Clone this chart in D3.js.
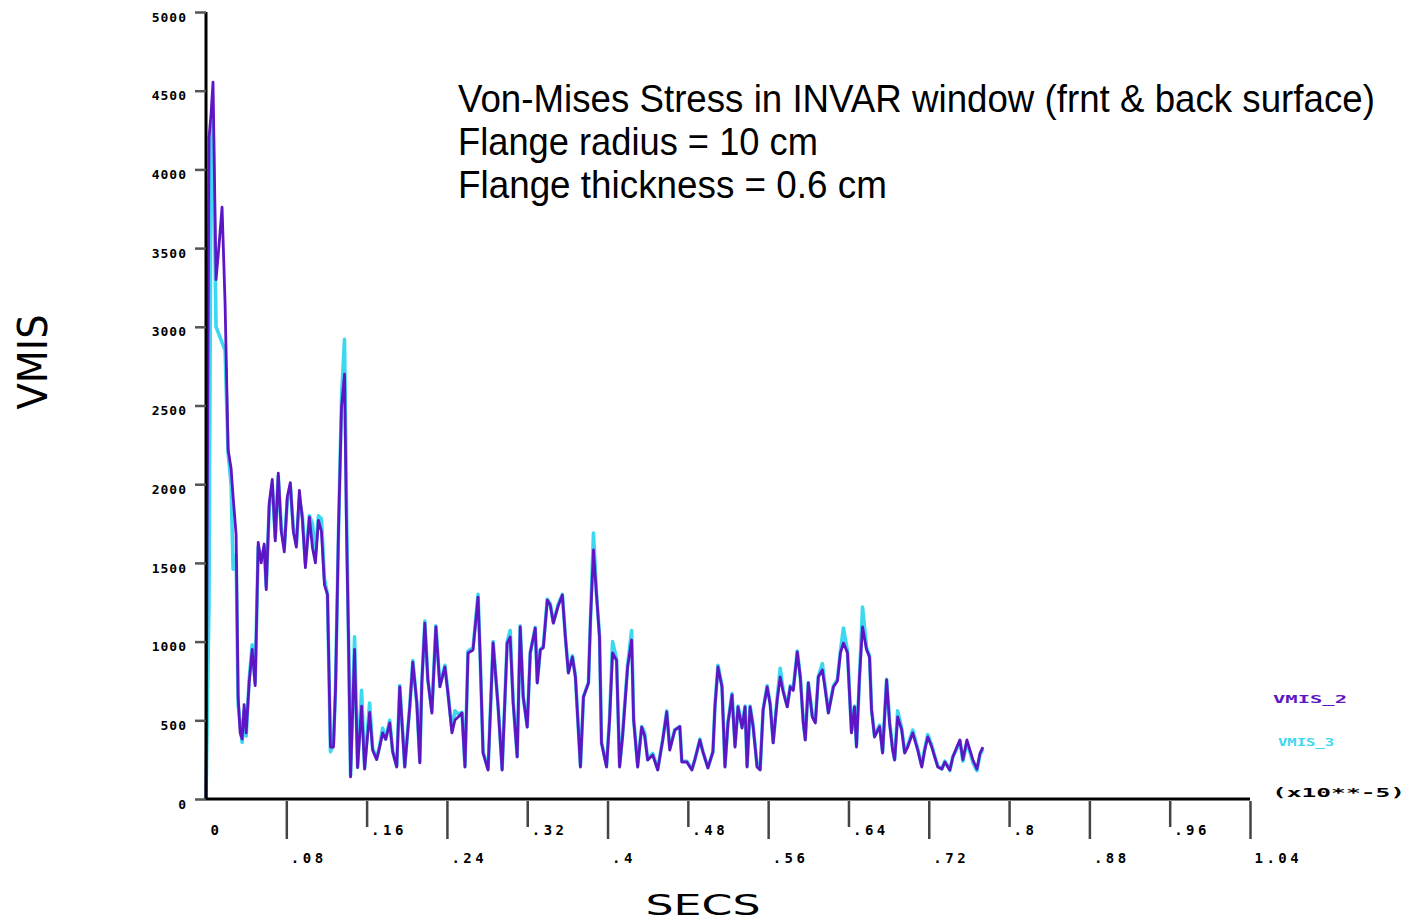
<!DOCTYPE html>
<html><head><meta charset="utf-8">
<script src="https://cdn.jsdelivr.net/npm/d3@7"></script>
<style>body{margin:0;background:#fff;overflow:hidden}</style>
</head><body><svg id="c" width="1410" height="921"></svg>
<script>
// time in units of 1e-5 s
const secs = [0,0.003,0.005,0.007,0.010,0.013,0.016,0.019,0.022,0.025,0.027,0.030,0.032,0.034,0.036,0.038,0.040,0.043,0.046,0.049,
0.052,0.055,0.058,0.060,0.063,0.066,0.069,0.072,0.075,0.078,0.081,0.084,0.087,0.090,0.093,0.096,0.099,0.103,0.106,0.109,
0.112,0.115,0.118,0.121,0.124,0.127,0.129,0.132,0.135,0.138,0.140,0.142,0.144,0.148,0.151,0.155,0.158,0.163,0.166,0.170,
0.173,0.176,0.179,0.183,0.186,0.190,0.193,0.198,0.203,0.206,0.210,0.213,0.215,0.218,0.221,0.225,0.229,0.233,0.238,0.241,
0.245,0.248,0.251,0.255,0.258,0.261,0.266,0.271,0.273,0.276,0.281,0.286,0.291,0.295,0.300,0.303,0.306,0.310,0.313,0.316,
0.320,0.323,0.328,0.330,0.333,0.336,0.340,0.343,0.346,0.351,0.355,0.358,0.361,0.365,0.368,0.373,0.376,0.381,0.383,0.386,
0.389,0.392,0.394,0.399,0.402,0.405,0.409,0.412,0.415,0.420,0.424,0.426,0.430,0.434,0.437,0.440,0.445,0.450,0.455,0.459,
0.462,0.467,0.472,0.474,0.479,0.484,0.487,0.492,0.495,0.500,0.505,0.507,0.510,0.514,0.517,0.520,0.524,0.527,0.530,0.534,
0.537,0.539,0.542,0.545,0.549,0.552,0.555,0.559,0.562,0.565,0.569,0.572,0.575,0.579,0.582,0.585,0.589,0.592,0.595,0.597,
0.600,0.604,0.607,0.610,0.614,0.617,0.620,0.625,0.629,0.632,0.635,0.639,0.643,0.646,0.648,0.651,0.654,0.658,0.661,0.663,
0.666,0.671,0.674,0.678,0.681,0.684,0.686,0.689,0.693,0.696,0.699,0.704,0.709,0.713,0.716,0.719,0.723,0.726,0.729,0.733,
0.736,0.739,0.741,0.744,0.748,0.751,0.754,0.758,0.761,0.764,0.768,0.771,0.774];

// front surface (purple)
const vmisFront = [0,4200,4350,4555,3300,3520,3760,3150,2220,2100,1920,1680,650,420,380,600,420,740,950,720,
1630,1500,1620,1330,1880,2030,1640,2070,1700,1570,1920,2010,1700,1600,1960,1780,1470,1790,1600,1500,
1770,1700,1360,1300,330,330,690,1710,2490,2700,1700,1000,140,950,200,590,190,550,310,250,
330,420,380,483,300,203,712,203,585,870,610,229,737,1118,756,546,1093,712,839,673,
420,502,520,546,203,928,947,1283,928,292,184,991,585,184,991,1029,610,267,1093,648,
457,928,1086,737,947,960,1264,1230,1118,1230,1296,1029,800,902,775,203,648,737,1137,1582,
1300,1029,356,203,500,928,880,203,400,839,1010,502,203,457,400,248,280,184,375,553,
311,438,460,235,235,184,250,375,300,197,300,585,839,712,203,483,661,330,585,450,
585,203,585,460,203,184,566,712,600,356,629,775,680,585,712,690,934,775,483,375,
737,520,483,775,820,690,546,712,750,928,991,930,420,585,330,775,1093,950,900,566,
394,460,292,756,480,311,248,521,440,292,330,420,311,203,311,394,330,267,203,190,
235,203,184,267,330,375,250,375,311,248,190,290,330];

// back surface (cyan)
const vmisBack = [0,1250,4150,4300,3000,2950,2900,2850,2200,2000,1460,1550,600,480,360,560,400,760,980,740,
1600,1520,1600,1350,1860,2000,1660,2050,1720,1600,1900,1990,1720,1620,1900,1800,1500,1800,1750,1560,
1800,1780,1400,1300,300,350,700,1700,2550,2920,1830,1000,150,1030,200,690,200,610,320,260,
340,450,380,500,300,210,720,210,590,880,610,240,740,1130,760,560,1100,720,850,680,
440,560,540,550,210,940,960,1300,930,300,190,1000,590,190,1000,1070,620,270,1100,650,
460,930,1090,740,950,970,1270,1240,1120,1240,1300,1030,810,910,780,210,650,740,1140,1690,
1300,1040,360,210,510,1000,890,210,410,850,1070,510,210,460,420,250,290,190,380,560,
320,440,460,240,240,190,250,380,300,200,300,590,850,720,210,490,670,340,590,460,
590,210,590,470,210,190,570,720,610,360,640,830,690,590,720,700,940,780,490,380,
740,530,490,780,860,700,550,720,760,940,1086,940,430,590,340,780,1220,960,910,570,
400,470,300,760,490,320,250,560,450,300,340,438,320,210,320,410,340,270,210,190,
240,210,180,270,320,370,240,360,300,230,180,280,320];

const yTicks = [0,500,1000,1500,2000,2500,3000,3500,4000,4500,5000];
const xTicks = [0,0.08,0.16,0.24,0.32,0.40,0.48,0.56,0.64,0.72,0.80,0.88,0.96,1.04];
const xTickLabels = ["0",".08",".16",".24",".32",".4",".48",".56",".64",".72",".8",".88",".96","1.04"];
const titleLines = ["Von-Mises Stress in INVAR window (frnt & back surface)","Flange radius = 10 cm","Flange thickness = 0.6 cm"];
const seriesNames = ["VMIS_2","VMIS_3"];
const seriesColors = ["#5e16c4","#3cd8f0"];

const svg = d3.select("#c");
const x = d3.scaleLinear().domain([0,1.04]).range([206,1250]);
const y = d3.scaleLinear().domain([0,5000]).range([799,12]);

// lines
const lineFn = vals => d3.line().x((d,i)=>x(secs[i])).y(d=>y(d))(vals);
svg.append("path").attr("d",lineFn(vmisBack)).attr("fill","none")
  .attr("stroke",seriesColors[1]).attr("stroke-width",3.6).attr("stroke-linejoin","round");
svg.append("path").attr("d",lineFn(vmisFront)).attr("fill","none")
  .attr("stroke",seriesColors[0]).attr("stroke-width",2.8).attr("stroke-linejoin","round");

// y axis
const yAxis = svg.append("g").attr("transform","translate(206,0)")
  .call(d3.axisLeft(y).tickValues(yTicks).tickSize(11).tickPadding(8).tickFormat(d3.format("d")));
yAxis.select(".domain").attr("stroke","#000").attr("stroke-width",3).attr("d","M0,12V799");
yAxis.selectAll(".tick line").attr("stroke","#555").attr("stroke-width",2.5);
yAxis.selectAll(".tick text").attr("font-family","DejaVu Sans Mono").attr("font-weight","bold")
  .attr("font-size",13).attr("letter-spacing","1px").attr("fill","#000").attr("dy","0.7em");

// x axis
const xAxis = svg.append("g").attr("transform","translate(0,799)")
  .call(d3.axisBottom(x).tickValues(xTicks).tickSize(28).tickPadding(0).tickFormat((d,i)=>xTickLabels[i]));
xAxis.select(".domain").attr("stroke","#000").attr("stroke-width",3).attr("d","M206,0H1250");
xAxis.selectAll(".tick line").attr("stroke","#444").attr("stroke-width",2.5)
  .attr("y1",2).attr("y2",(d,i)=> i%2 ? 40 : 28).attr("display",(d,i)=> i===0 ? "none" : null);
xAxis.selectAll(".tick text").attr("font-family","DejaVu Sans Mono").attr("font-weight","bold")
  .attr("font-size",14).attr("letter-spacing","3.5px").attr("fill","#000")
  .attr("text-anchor","start").attr("x",4).attr("dy",0).attr("y",(d,i)=> i%2 ? 64 : 36);

// multiplier label
svg.append("text").attr("x",1272).attr("y",797).text("(x10**-5)")
  .attr("font-family","DejaVu Sans Mono").attr("font-weight","bold").attr("font-size",13)
  .attr("textLength",133).attr("lengthAdjust","spacingAndGlyphs");

// legend
const legY = [703,746];
const legW = [74,56];
const legX = [1273,1278];
seriesNames.forEach((n,i)=>{
  svg.append("text").attr("x",legX[i]).attr("y",legY[i]).text(n)
    .attr("font-family","DejaVu Sans Mono").attr("font-weight","bold").attr("font-size",11)
    .attr("fill",seriesColors[i]).attr("textLength",legW[i]).attr("lengthAdjust","spacingAndGlyphs");
});

// title (horizontally scaled to the reference widths)
const tW = [917,360,429];
const tY = [112,155,198];
titleLines.forEach((t,i)=>{
  const g = svg.append("g");
  const tx = g.append("text").attr("x",0).attr("y",0).text(t)
    .attr("font-family","Liberation Sans, Arial, sans-serif").attr("font-size",39).attr("fill","#000");
  const w = tx.node().getComputedTextLength();
  g.attr("transform",`translate(458,${tY[i]}) scale(${tW[i]/w},1)`);
});

// axis titles
svg.append("text").attr("transform","translate(47,362) rotate(-90)").attr("text-anchor","middle")
  .text("VMIS").attr("font-family","DejaVu Sans, sans-serif").attr("font-size",40)
  .attr("textLength",95).attr("lengthAdjust","spacingAndGlyphs");
svg.append("text").attr("x",703).attr("y",915).attr("text-anchor","middle")
  .text("SECS").attr("font-family","DejaVu Sans, sans-serif").attr("font-size",28)
  .attr("textLength",115).attr("lengthAdjust","spacingAndGlyphs");
</script></body></html>
